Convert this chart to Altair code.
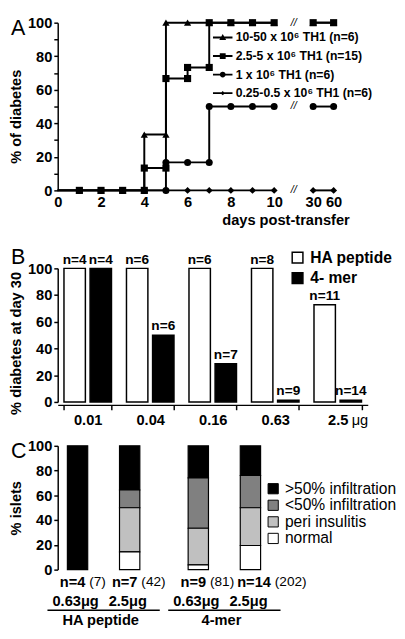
import altair as alt
import pandas as pd

FONT = "Liberation Sans"

# ---------------- Panel A data ----------------
series_names = ["10-50 x 10⁶ TH1 (n=6)", "2.5-5 x 10⁶ TH1 (n=15)",
                "1 x 10⁶ TH1 (n=6)", "0.25-0.5 x 10⁶ TH1 (n=6)"]
tri_days = [0, 1, 2, 3, 4, 4, 5, 5, 6, 7, 8, 9, 10, 30, 60]
tri_pct = [0, 0, 0, 0, 0, 33.3, 33.3, 100, 100, 100, 100, 100, 100, 100, 100]
sq_days = [0, 1, 2, 3, 4, 4, 5, 5, 6, 6, 7, 7, 8, 9, 10, 30, 60]
sq_pct = [0, 0, 0, 0, 0, 13.3, 13.3, 66.7, 66.7, 73.3, 73.3, 100, 100, 100, 100, 100, 100]
ci_days = [0, 1, 2, 3, 4, 5, 5, 6, 7, 7, 8, 9, 10, 30, 60]
ci_pct = [0, 0, 0, 0, 0, 0, 16.7, 16.7, 16.7, 50, 50, 50, 50, 50, 50]
di_days = [0, 1, 2, 3, 4, 5, 6, 7, 8, 9, 10, 30, 60]
di_pct = [0, 0, 0, 0, 0, 0, 0, 0, 0, 0, 0, 0, 0]
day_ticks = [0, 2, 4, 6, 8, 10, 30, 60]
pct_ticks_a = [0, 10, 20, 30, 40, 50, 60, 70, 80, 90, 100]
break_levels = [100, 50, 0]

# ---------------- Panel B data ----------------
doses_b = ["0.01", "0.04", "0.16", "0.63", "2.5"]
treatments = ["HA peptide", "4- mer"]
ha_pct = [100, 100, 100, 100, 72.7]
ha_n = ["n=4", "n=6", "n=6", "n=8", "n=11"]
mer_pct = [100, 50, 28.6, 1.3, 1.3]
mer_n = ["n=4", "n=6", "n=7", "n=9", "n=14"]

# ---------------- Panel C data ----------------
c_groups = ["HA peptide", "HA peptide", "4-mer", "4-mer"]
c_doses = ["0.63μg", "2.5μg", "0.63μg", "2.5μg"]
c_mice = ["n=4", "n=7", "n=9", "n=14"]
c_islets = ["(7)", "(42)", "(81)", "(202)"]
categories = [">50% infiltration", "<50% infiltration", "peri insulitis", "normal"]
pct_gt50 = [100, 35.7, 25.9, 24.0]
pct_lt50 = [0, 14.3, 40.7, 26.0]
pct_peri = [0, 35.7, 29.6, 30.5]
pct_normal = [0, 14.3, 3.8, 19.5]
pct_ticks = [0, 20, 40, 60, 80, 100]

W_A, H_A = 285, 172
W_B, H_B = 318, 137
W_C, H_C = 218, 127

RES_SCALE = dict(x="independent", y="independent", xOffset="independent",
                 fill="independent", shape="independent", size="independent")
RES_LEG = dict(fill="independent", shape="independent", size="independent")

# ================= Panel A =================
rows = []
order_draw = [(3, di_days, di_pct), (0, tri_days, tri_pct),
              (2, ci_days, ci_pct), (1, sq_days, sq_pct)]
k = 0
for si, dd, pp in order_draw:
    for d, p in zip(dd, pp):
        rows.append({"series": series_names[si], "day": d, "pct": p,
                     "seg": series_names[si] + ("a" if d <= 10 else "b"),
                     "idx": k, "marker": d > 0})
        k += 1
dfa = pd.DataFrame(rows)

xa = alt.X("day:Q", scale=alt.Scale(domain=[0, 10, 30, 60], range=[0, 222, 262, 283]),
           axis=alt.Axis(values=day_ticks, ticks=False, domain=False, labelPadding=5,
                         labelOverlap=False, labelFlush=False,
                         title="days post-transfer", titlePadding=3,
                         titleX=W_A + 14, titleAlign="right", grid=False))
ya = alt.Y("pct:Q", scale=alt.Scale(domain=[0, 100], nice=False),
           axis=alt.Axis(values=pct_ticks_a, labelExpr="datum.value % 20 == 0 ? datum.label : ''",
                         title="% of diabetes", titleY=H_A / 2 + 10,
                         labelOverlap=False, labelFlush=False,
                         titlePadding=4, labelPadding=2, grid=False))

lines = alt.Chart(dfa).mark_line(color="black", strokeWidth=2).encode(
    x=xa, y=ya, detail="seg:N", order="idx:Q")

pts = alt.Chart(dfa).transform_filter("datum.marker").mark_point(
    filled=True, color="black", opacity=1).encode(
    x=xa, y=ya,
    shape=alt.Shape("series:N", scale=alt.Scale(domain=series_names,
                    range=["triangle-up", "square", "circle", "diamond"]), legend=None),
    size=alt.Size("series:O", scale=alt.Scale(domain=series_names,
                  range=[55, 50, 42, 22]), legend=None))

leg_paths = ["M-2,-0.2H2V0.2H-2ZM0,-0.75L0.7,0.5L-0.7,0.5Z",
             "M-2,-0.2H2V0.2H-2ZM-0.6,-0.6H0.6V0.6H-0.6Z",
             "M-2,-0.2H2V0.2H-2ZM-0.6,0A0.6,0.6,0,1,1,0.6,0A0.6,0.6,0,1,1,-0.6,0Z",
             "M-2,-0.2H2V0.2H-2ZM0,-0.45L0.45,0L0,0.45L-0.45,0Z"]
leg = alt.Chart(dfa).mark_point(filled=True, color="black", opacity=0).encode(
    x=xa, y=ya,
    shape=alt.Shape("series:N", scale=alt.Scale(domain=series_names, range=leg_paths),
                    legend=alt.Legend(orient="none", legendX=163, legendY=9, title=None,
                                      symbolSize=100, symbolFillColor="black",
                                      symbolStrokeWidth=0,
                                      symbolOpacity=1, labelFont=FONT, labelFontSize=12.5,
                                      labelFontWeight="bold", labelColor="black",
                                      labelOffset=7, labelLimit=400, rowPadding=6)))

dfbrk = pd.DataFrame({"day": [20] * len(break_levels), "pct": break_levels,
                      "t": ["//"] * len(break_levels)})
brk = alt.Chart(dfbrk).mark_text(fontSize=11, fontStyle="italic", color="black").encode(
    x=xa, y=ya, text="t:N")

letA = alt.Chart(pd.DataFrame({"t": ["A"]})).mark_text(
    fontSize=22, align="left", baseline="alphabetic", color="black").encode(
    x=alt.value(-48), y=alt.value(13), text="t:N")

panelA = alt.layer(lines, pts, leg, brk, letA).resolve_scale(
    shape="independent").properties(width=W_A, height=H_A)

# ================= Panel B =================
rows = []
for i, d in enumerate(doses_b):
    rows.append({"dose": d, "treatment": treatments[0], "pct": ha_pct[i], "n": ha_n[i]})
    rows.append({"dose": d, "treatment": treatments[1], "pct": mer_pct[i], "n": mer_n[i]})
dfb = pd.DataFrame(rows)

xb = alt.X("dose:N", sort=doses_b,
           scale=alt.Scale(domain=doses_b, paddingInner=0.24, paddingOuter=0.1),
           axis=alt.Axis(labelAngle=0, tickBand="extent", ticks=True, tickSize=5,
                         offset=3, labelPadding=3, title="μg", titleX=W_B,
                         titleY=8, titleAlign="right", titleBaseline="top",
                         titleFontWeight="normal", titleFontSize=15, grid=False))
xob = alt.XOffset("treatment:N", sort=treatments,
                  scale=alt.Scale(domain=treatments, paddingInner=0.18, paddingOuter=0))
yb = alt.Y("pct:Q", scale=alt.Scale(domain=[0, 100], nice=False),
           axis=alt.Axis(values=pct_ticks, title="% diabetes at day 30", titleY=H_B / 2 + 8,
                         labelOverlap=False, labelFlush=False, titlePadding=4,
                         labelPadding=2, grid=False))

barsB = alt.Chart(dfb).mark_bar(stroke="black", strokeWidth=1.5).encode(
    x=xb, xOffset=xob, y=yb,
    fill=alt.Fill("treatment:N", scale=alt.Scale(domain=treatments, range=["white", "black"]),
                  legend=alt.Legend(orient="none", legendX=238, legendY=-19, title=None,
                                    symbolType="square", symbolSize=121,
                                    symbolStrokeColor="black", symbolStrokeWidth=1.5,
                                    labelFont=FONT, labelFontSize=16, labelFontWeight="bold",
                                    labelColor="black", labelOffset=5, rowPadding=3)))
nB = alt.Chart(dfb).mark_text(baseline="bottom", dy=-2, fontSize=14, fontWeight="bold",
                              color="black").encode(
    x=xb, xOffset=xob, y=yb, text="n:N")
letB = alt.Chart(pd.DataFrame({"t": ["B"]})).mark_text(
    fontSize=22, align="left", baseline="alphabetic", color="black").encode(
    x=alt.value(-48), y=alt.value(-4), text="t:N")

panelB = alt.layer(barsB, nB, letB).properties(width=W_B, height=H_B)

# ================= Panel C =================
vals = [pct_gt50, pct_lt50, pct_peri, pct_normal]
rank = [3, 2, 1, 0]
rows = []
for j in range(len(c_groups)):
    for ci, cat in enumerate(categories):
        rows.append({"group": c_groups[j], "dose": c_doses[j], "cat": cat,
                     "pct": vals[ci][j], "rank": rank[ci]})
dfc = pd.DataFrame(rows)
dfc_lab = pd.DataFrame({"group": c_groups, "dose": c_doses, "mice": c_mice, "islets": c_islets})
grp_names = ["HA peptide", "4-mer"]
dfc_grp = pd.DataFrame({"group": grp_names})
dose_dom = ["0.63μg", "2.5μg"]

xc = alt.X("group:N", sort=grp_names,
           scale=alt.Scale(domain=grp_names, paddingInner=0.40, paddingOuter=0.08),
           axis=None)
xoc = alt.XOffset("dose:N", sort=dose_dom,
                  scale=alt.Scale(domain=dose_dom, paddingInner=0.61, paddingOuter=0))
yc = alt.Y("pct:Q", stack="zero", scale=alt.Scale(domain=[0, 100], nice=False),
           axis=alt.Axis(values=pct_ticks, title="% islets", labelOverlap=False,
                         labelFlush=False, titlePadding=4, labelPadding=2, grid=False))

barsC = alt.Chart(dfc).transform_filter("datum.pct > 0").mark_bar(
    stroke="black", strokeWidth=1.2).encode(
    x=xc, xOffset=xoc, y=yc, order=alt.Order("rank:Q"),
    fill=alt.Fill("cat:N", scale=alt.Scale(domain=categories,
                  range=["black", "#808080", "#c0c0c0", "white"]),
                  legend=alt.Legend(orient="none", legendX=213, legendY=36, title=None,
                                    symbolType="square", symbolSize=110,
                                    symbolStrokeColor="black", symbolStrokeWidth=1,
                                    labelFont=FONT, labelFontSize=16, labelFontWeight="normal",
                                    labelColor="black", labelOffset=4, rowPadding=1,
                                    labelLimit=300)))

txt_base = alt.Chart(dfc_lab).encode(x=xc, xOffset=xoc)
short_n = "length(datum.mice) <= 3"
long_n = "length(datum.mice) > 3"
miceC1 = txt_base.transform_filter(short_n).mark_text(
    align="right", baseline="middle", dx=8, fontSize=15, fontWeight="bold",
    color="black").encode(y=alt.value(H_C + 13), text="mice:N")
isletsC1 = txt_base.transform_filter(short_n).mark_text(
    align="left", baseline="middle", dx=12, fontSize=14, color="black").encode(
    y=alt.value(H_C + 13), text="islets:N")
miceC2 = txt_base.transform_filter(long_n).mark_text(
    align="right", baseline="middle", dx=21, fontSize=15, fontWeight="bold",
    color="black").encode(y=alt.value(H_C + 13), text="mice:N")
isletsC2 = txt_base.transform_filter(long_n).mark_text(
    align="left", baseline="middle", dx=25, fontSize=14, color="black").encode(
    y=alt.value(H_C + 13), text="islets:N")
doseC = txt_base.mark_text(align="center", baseline="middle", dx=-2, fontSize=15,
                           fontWeight="bold", color="black").encode(
    y=alt.value(H_C + 32), text="dose:N")
lineC = alt.Chart(dfc_grp).mark_bar(width=alt.RelativeBandSize(1.55), color="black").encode(
    x=xc, y=alt.value(H_C + 41), y2=alt.value(H_C + 42.5))
grpC = alt.Chart(dfc_grp).mark_text(align="center", baseline="middle", dx=-3, fontSize=15,
                                    fontWeight="bold", color="black").encode(
    x=xc, y=alt.value(H_C + 52), text="group:N")
letC = alt.Chart(pd.DataFrame({"t": ["C"]})).mark_text(
    fontSize=22, align="left", baseline="alphabetic", color="black").encode(
    x=alt.value(-48), y=alt.value(12), text="t:N")

panelC = alt.layer(barsC, miceC1, isletsC1, miceC2, isletsC2, doseC, lineC, grpC,
                   letC).properties(width=W_C, height=H_C)

topAB = alt.vconcat(panelA, panelB, spacing=20).resolve_scale(**RES_SCALE).resolve_legend(**RES_LEG)
chart = alt.vconcat(topAB, panelC, spacing=12).resolve_scale(**RES_SCALE).resolve_legend(
    **RES_LEG).properties(
    padding={"left": 0, "top": 0, "right": 0, "bottom": 0}
).configure(font=FONT).configure_axis(
    labelFont=FONT, labelFontWeight="bold", labelFontSize=15, labelColor="black",
    titleFont=FONT, titleFontWeight="bold", titleFontSize=15, titleColor="black",
    domainColor="black", domainWidth=1.5, tickColor="black", tickWidth=1.5, tickSize=4,
    labelPadding=3
).configure_view(stroke=None)

chart.save("out.html", embed_options={"renderer": "svg", "actions": False})
